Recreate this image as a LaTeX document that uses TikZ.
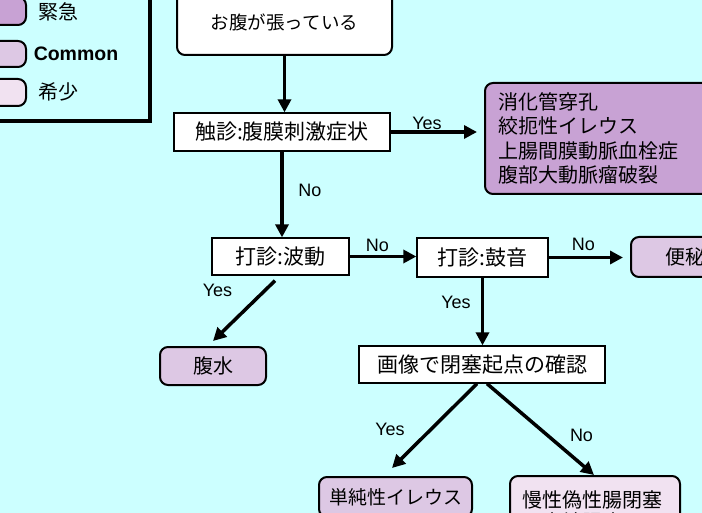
\documentclass[tikz,border=0pt]{standalone}
\usepackage{fontspec}
\setmainfont{Liberation Sans}
\newfontfamily\jp{Noto Sans CJK JP}
\usetikzlibrary{arrows.meta}
\definecolor{bgc}{RGB}{204,255,255}
\definecolor{urgc}{RGB}{200,162,212}
\definecolor{comc}{RGB}{221,200,228}
\definecolor{rarc}{RGB}{241,226,241}
\begin{document}
\begin{tikzpicture}[x=1pt,y=-1pt,
  plainbox/.style={draw=black, line width=1.3pt, fill=white, inner sep=0pt},
  roundbox/.style={draw=black, line width=2pt, rounded corners=8pt, inner sep=0pt},
  arr/.style={line width=3.5pt, -{Triangle[length=13pt,width=13pt]}},
  lbl/.style={font=\fontsize{18}{20}\selectfont, inner sep=0pt},
  jbig/.style={font=\jp\fontsize{21}{25}\selectfont},
  jmid/.style={font=\jp\fontsize{20}{24.3}\selectfont},
  jsm/.style={font=\jp\fontsize{19}{23}\selectfont}]
\useasboundingbox (0,0) rectangle (702,513);
\clip (0,0) rectangle (702,513);
\fill[bgc] (0,0) rectangle (702,513);

% legend
\draw[line width=4pt] (-10,-10) rectangle (150,121);
\node[roundbox, fill=urgc, minimum width=46pt, minimum height=28pt] (s1) at (3,11) {};
\node[roundbox, fill=comc, minimum width=46pt, minimum height=26pt] (s2) at (3,54) {};
\node[roundbox, fill=rarc, minimum width=46pt, minimum height=27pt] (s3) at (3,92.5) {};
\node[jmid, inner sep=0pt] (t1) at (58,12) {緊急};
\node[font=\bfseries\fontsize{19.5}{22}\selectfont, inner sep=0pt] (t2) at (76,54) {Common};
\node[jmid, inner sep=0pt] (t3) at (58,91.5) {希少};

% boxes
\node[roundbox, fill=white, minimum width=215pt, minimum height=66pt, font=\jp\fontsize{18.5}{22}\selectfont] (top) at (284.5,22) {お腹が張っている};
\node[plainbox, jbig, minimum width=216pt, minimum height=38pt] (tri) at (282,132) {触診:腹膜刺激症状};
\node[roundbox, fill=urgc, jmid, minimum width=225pt, minimum height=111pt, text width=199pt, align=left] (urg) at (597.5,138.5) {消化管穿孔\\絞扼性イレウス\\上腸間膜動脈血栓症\\腹部大動脈瘤破裂};
\node[plainbox, jbig, minimum width=137pt, minimum height=37pt] (hado) at (280.5,256.5) {打診:波動};
\node[plainbox, jbig, minimum width=131pt, minimum height=39pt] (kochi) at (482.5,257.5) {打診:鼓音};
\node[roundbox, fill=comc, jmid, minimum width=108pt, minimum height=40pt] (benpi) at (685,257) {便秘};
\node[roundbox, fill=comc, jmid, minimum width=106pt, minimum height=38pt] (fukusui) at (213,366) {腹水};
\node[plainbox, jbig, minimum width=246pt, minimum height=37pt] (gazo) at (482,364.5) {画像で閉塞起点の確認};
\node[roundbox, fill=comc, jsm, minimum width=153pt, minimum height=40pt, anchor=north] (tanjun) at (395.5,476) {単純性イレウス};
\node[roundbox, fill=rarc, font=\jp\fontsize{20}{22.5}\selectfont, minimum width=170pt, minimum height=70pt, anchor=north, text width=146pt, align=left, inner ysep=8pt] (mansei) at (595,475) {慢性偽性腸閉塞\\巨大結腸症};

% connectors
\draw[arr] (top.south) -- (top.south |- tri.north);
\draw[arr, shorten >=7pt] (tri.east) -- (tri.east -| urg.west);
\draw[arr] (tri.south) -- (tri.south |- hado.north);
\draw[arr] (hado.east) -- (hado.east -| kochi.west);
\draw[arr, shorten >=7pt] (kochi.east) -- (kochi.east -| benpi.west);
\draw[arr] ([xshift=-5.5pt,yshift=-5pt]hado.south) -- ([yshift=5pt]fukusui.north);
\draw[arr] (kochi.south) -- (kochi.south |- gazo.north);
\draw[arr] ([xshift=-5pt]gazo.south) -- ([xshift=-3.5pt,yshift=8pt]tanjun.north);
\draw[arr] ([xshift=5pt]gazo.south) -- ([xshift=-1pt]mansei.north);

% labels
\node[lbl] (l1) at (427,123) {Yes};
\node[lbl] (l2) at (310,190) {No};
\node[lbl] (l3) at (377.5,245) {No};
\node[lbl] (l4) at (583.5,244.5) {No};
\node[lbl] (l5) at (217.5,290) {Yes};
\node[lbl] (l6) at (456,302) {Yes};
\node[lbl] (l7) at (390,429.5) {Yes};
\node[lbl] (l8) at (581.5,435) {No};
\end{tikzpicture}
\end{document}
